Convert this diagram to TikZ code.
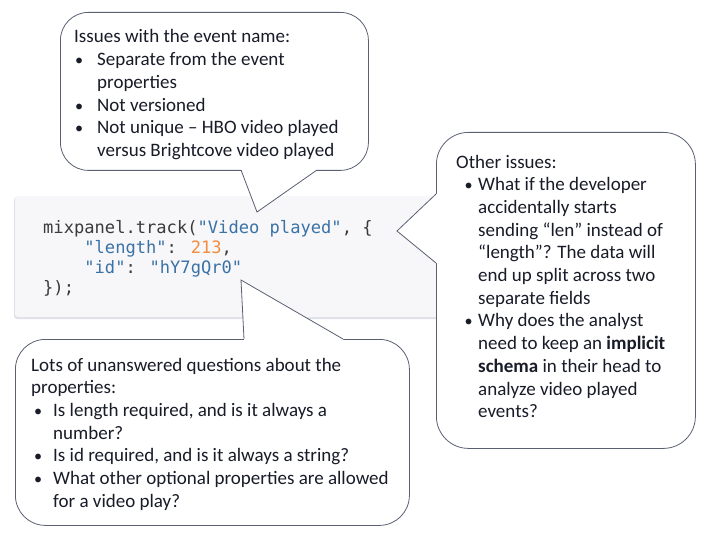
\documentclass[tikz,border=0pt]{standalone}
\usepackage{fontspec}
\setmainfont{Carlito}
\newfontfamily\codefont{DejaVu Sans Mono}
\definecolor{txt}{HTML}{181B28}
\definecolor{edge}{HTML}{5A6072}
\definecolor{codebg}{HTML}{F7F7F9}
\definecolor{codeshadow}{HTML}{E0E1E8}
\definecolor{codetxt}{HTML}{3A3A3A}
\definecolor{codestr}{HTML}{3B72A6}
\definecolor{codenum}{HTML}{F28C3F}
\newcommand\itm[2]{\hspace*{#1}\makebox[#2][l]{\scalebox{0.85}{•}}}
\newcommand\cnt[1]{\hspace*{#1}}
\begin{document}
\begin{tikzpicture}[x=1pt,y=-1pt,
  cbox/.style={draw=edge, line width=0.8pt, fill=white, rounded corners=#1, inner sep=0, anchor=north west},
  tailcover/.style={fill=white},
  tailline/.style={draw=edge, line width=0.8pt, line join=miter},
  ctext/.style={anchor=base west, inner sep=0, align=left, text=txt, font=\fontsize{19}{22.7}\selectfont},
  code/.style={anchor=base west, inner sep=0, text=codetxt, font=\codefont\fontsize{17.1}{20}\selectfont}]
\useasboundingbox (0,0) rectangle (708,537);

% code panel
\fill[codeshadow, rounded corners=3] (14,197) rectangle (440,319);
\fill[codebg, rounded corners=3] (15,196) rectangle (440,317);

% callout 1 (top)
\node[cbox=28, minimum width=308pt, minimum height=158pt] (c1) at (60,12) {};
\fill[tailcover] (241,166) -- (241,170) -- (257,212) -- (317,170) -- (317,166) -- cycle;
\draw[tailline] (241,170) -- (257,212) -- (317,170);
\node[ctext] (t1) at (74,156.5) {Issues with the event name:\\
\itm{1pt}{22pt}Separate from the event\\
\cnt{23pt}properties\\
\itm{1pt}{22pt}Not versioned\\
\itm{1pt}{22pt}Not unique – HBO video played\\
\cnt{23pt}versus Brightcove video played};

% callout 2 (right)
\node[cbox=32, minimum width=259pt, minimum height=316pt] (c2) at (436,132) {};
\fill[tailcover] (440,194) -- (436,194) -- (397,231) -- (436,263) -- (440,263) -- cycle;
\draw[tailline] (436,194) -- (397,231) -- (436,263);
\node[ctext] (t2) at (456,417.7) {Other issues:\\
\itm{8.5pt}{13.5pt}What if the developer\\
\cnt{22pt}accidentally starts\\
\cnt{22pt}sending “len” instead of\\
\cnt{22pt}“length”? The data will\\
\cnt{22pt}end up split across two\\
\cnt{22pt}separate fields\\
\itm{8.5pt}{13.5pt}Why does the analyst\\
\cnt{22pt}need to keep an \textbf{implicit}\\
\cnt{22pt}\textbf{schema} in their head to\\
\cnt{22pt}analyze video played\\
\cnt{22pt}events?};

% callout 3 (bottom)
\node[cbox=30, minimum width=394pt, minimum height=186pt] (c3) at (15,339) {};
\fill[tailcover] (244,343) -- (244,339) -- (241,280) -- (343,339) -- (343,343) -- cycle;
\draw[tailline] (244,339) -- (241,280) -- (343,339);
\node[ctext] (t3) at (31,507.2) {Lots of unanswered questions about the\\
properties:\\
\itm{3pt}{19pt}Is length required, and is it always a\\
\cnt{22pt}number?\\
\itm{3pt}{19pt}Is id required, and is it always a string?\\
\itm{3pt}{19pt}What other optional properties are allowed\\
\cnt{22pt}for a video play?};

% code text
\node[code] (l1) at (43,233) {mixpanel.track(\textcolor{codestr}{"Video played"}, \{};
\node[code] (l2) at (43,253) {\phantom{xxxx}\textcolor{codestr}{"length"}: \textcolor{codenum}{213},};
\node[code] (l3) at (43,273) {\phantom{xxxx}\textcolor{codestr}{"id"}: \textcolor{codestr}{"hY7gQr0"}};
\node[code] (l4) at (43,293) {\});};
\end{tikzpicture}
\end{document}
